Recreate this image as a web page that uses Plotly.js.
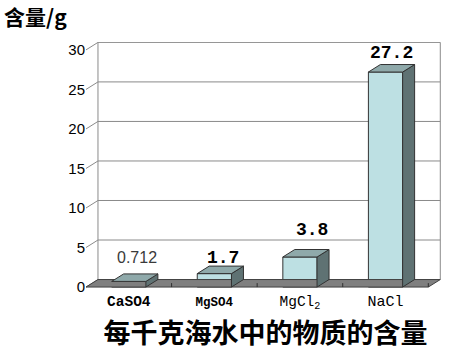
<!DOCTYPE html>
<html><head><meta charset="utf-8">
<script src="https://cdn.plot.ly/plotly-3.0.1.min.js"></script>
<style>html,body{margin:0;padding:0;background:#fff}#chart{width:454px;height:354px}</style>
</head><body><div id="chart"></div>
<script>
// ---- data ----
const categories = ['CaSO4', 'MgSO4', 'MgCl<sub>2</sub>', 'NaCl'];
const values = [0.712, 1.7, 3.8, 27.2];
const valueLabels = ['0.712', '1.7', '3.8', '27.2'];
const yTicks = [0, 5, 10, 15, 20, 25, 30];
const chartTitle = '每千克海水中的物质的含量';
const yTitle = '含量/g';

// ---- style / geometry ----
const DX = 0.14, DY = 0.95, BW = 0.4;
const X0 = -0.5, X1 = categories.length - 0.5;
const YMAX = yTicks[yTicks.length - 1];
const xs = categories.map((_, i) => i);
const C_FRONT = '#BDE0E3', C_TOP = '#8FA9AA', C_SIDE = '#5F7273', C_EDGE = '#333333';
const C_GRID = '#8a8a8a';
const tickStyle = [
  {b: true, size: 14.5}, {b: true, size: 12.5}, {b: false, size: 14.5}, {b: false, size: 15}
];
const labelShift = [[2, 16], [3, 8], [6, 20], [0, 12]];
const labelFont = [
  {family: 'Liberation Sans, Arial, sans-serif', size: 16, color: '#3a3a3a'},
  {family: 'Liberation Mono, monospace', size: 18, color: '#000', weight: 'bold'},
  {family: 'Liberation Mono, monospace', size: 18, color: '#000', weight: 'bold'},
  {family: 'Liberation Mono, monospace', size: 18, color: '#000', weight: 'bold'}
];

const traces = [];
// floor
traces.push({type: 'scatter', mode: 'lines', x: [X0, X1, X1 + DX, X0 + DX, X0], y: [0, 0, DY, DY, 0],
  fill: 'toself', fillcolor: '#7f7f7f', line: {color: '#404040', width: 1}, hoverinfo: 'skip', showlegend: false});
// side and top faces
const sx = [], sy = [], tx = [], ty = [];
xs.forEach((x, i) => {
  const v = values[i], l = x - BW / 2, r = x + BW / 2;
  sx.push(r, r, r + DX, r + DX, r, null); sy.push(0, v, v + DY, DY, 0, null);
  tx.push(l, r, r + DX, l + DX, l, null); ty.push(v, v, v + DY, v + DY, v, null);
});
traces.push({type: 'scatter', mode: 'lines', x: sx, y: sy, fill: 'toself', fillcolor: C_SIDE,
  line: {color: C_EDGE, width: 1}, hoverinfo: 'skip', showlegend: false});
traces.push({type: 'scatter', mode: 'lines', x: tx, y: ty, fill: 'toself', fillcolor: C_TOP,
  line: {color: C_EDGE, width: 1}, hoverinfo: 'skip', showlegend: false});
// front faces
traces.push({type: 'bar', x: xs, y: values, width: BW, marker: {color: C_FRONT, line: {color: C_EDGE, width: 1}},
  hoverinfo: 'skip', showlegend: false});

// walls & gridlines
const shapes = [];
yTicks.forEach(t => {
  if (t > 0) shapes.push({type: 'line', layer: 'below', xref: 'x', yref: 'y', x0: X0 + DX, x1: X1 + DX, y0: t + DY, y1: t + DY, line: {color: C_GRID, width: 1}});
  shapes.push({type: 'line', layer: 'below', xref: 'x', yref: 'y', x0: X0, x1: X0 + DX, y0: t, y1: t + DY, line: {color: C_GRID, width: 1}});
});
[X0 + DX, X1 + DX].forEach(x => shapes.push({type: 'line', layer: 'below', xref: 'x', yref: 'y', x0: x, x1: x, y0: DY, y1: YMAX + DY, line: {color: C_GRID, width: 1}}));
// floor ticks at category boundaries
xs.forEach(x => shapes.push({type: 'line', layer: 'above', xref: 'x', yref: 'y', x0: x + 0.5, x1: x + 0.5, y0: 0, y1: 0.5, line: {color: '#303030', width: 1}}));

const annotations = valueLabels.map((t, i) => ({
  x: xs[i] + DX / 2, y: values[i] + DY, xref: 'x', yref: 'y', text: t, showarrow: false,
  xanchor: 'center', yanchor: 'middle', xshift: labelShift[i][0], yshift: labelShift[i][1], font: labelFont[i]
}));
annotations.push({x: -84 / 356, y: (291 - 16) / 249, xref: 'paper', yref: 'paper', text: yTitle, showarrow: false,
  xanchor: 'left', yanchor: 'middle', font: {family: 'Noto Sans CJK SC, sans-serif', size: 21, color: '#000', weight: 'bold'}});

const ticktext = categories.map((c, i) => {
  let s = '<span style="font-size:' + tickStyle[i].size + 'px">' + c + '</span>';
  return tickStyle[i].b ? '<b>' + s + '</b>' : s;
});

const layout = {
  width: 454, height: 354,
  margin: {l: 86, r: 12, t: 42, b: 63},
  paper_bgcolor: '#fff', plot_bgcolor: 'rgba(0,0,0,0)',
  title: {text: chartTitle, x: 265.5 / 454, xanchor: 'center', xref: 'container', y: 1 - 334 / 354, yref: 'container', yanchor: 'middle',
    font: {family: 'Noto Sans CJK SC, sans-serif', size: 27, color: '#000', weight: 'bold'}},
  xaxis: {range: [X0, X1 + DX + 0.02], tickvals: xs, ticktext: ticktext, showgrid: false, zeroline: false, showline: false, ticks: '',
    tickfont: {family: 'Liberation Mono, monospace', size: 14, color: '#000'}, fixedrange: true},
  yaxis: {range: [-0.5, 31], tickvals: yTicks, showgrid: false, zeroline: false, showline: false, ticks: '',
    tickfont: {family: 'Liberation Sans, Arial, sans-serif', size: 15, color: '#000'}, fixedrange: true},
  shapes: shapes, annotations: annotations, showlegend: false, bargap: 0
};
Plotly.newPlot('chart', traces, layout, {staticPlot: true, displayModeBar: false});
</script></body></html>
